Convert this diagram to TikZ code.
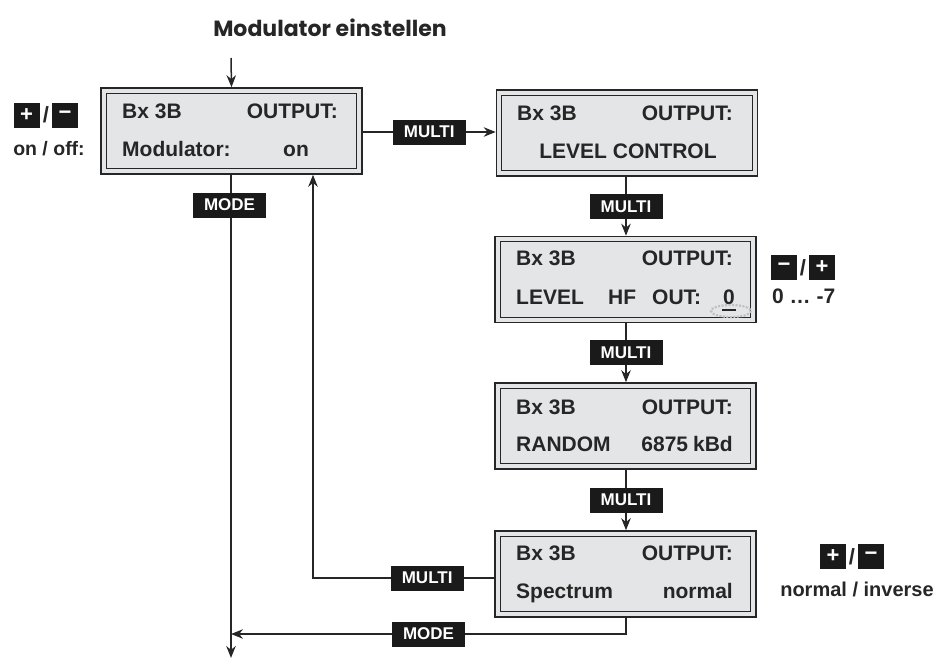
\documentclass[tikz,border=0pt]{standalone}
\usepackage{fontspec}
\setmainfont{Liberation Sans}
\newfontfamily\titlefont{Poppins}
\usetikzlibrary{arrows.meta,positioning,calc}
\definecolor{lcdgray}{HTML}{E4E5E6}
\definecolor{keyblack}{HTML}{1A1A1A}
\begin{document}
\begin{tikzpicture}[x=1pt,y=-1pt,
  lcd/.style={draw=black!85,line width=1.6pt,fill=lcdgray,minimum width=261pt,minimum height=86pt,inner sep=0pt},
  lcdin/.style={draw=black!85,line width=1.2pt},
  txt/.style={font=\bfseries\fontsize{21}{22}\selectfont,text=black!85,inner sep=0pt},
  lab/.style={fill=keyblack,text=white,font=\bfseries\fontsize{17}{17}\selectfont,minimum width=73pt,minimum height=25pt,inner sep=0pt},
  key/.style={fill=keyblack,text=white,font=\bfseries\fontsize{22}{22}\selectfont,minimum width=26pt,minimum height=25pt,inner sep=0pt},
  slash/.style={font=\bfseries\fontsize{22}{22}\selectfont,text=black!85,inner sep=0pt},
  con/.style={draw=black!85,line width=1.5pt},
  arr/.style={con,-{Stealth[length=12pt,width=9.5pt]}}
]
\path[use as bounding box] (0,0) rectangle (943,659);

% title
\node[font=\titlefont\bfseries\fontsize{22}{22}\selectfont,text=black!85,inner sep=0pt] (title) at (330,28) {Modulator einstellen};

% boxes
\node[lcd] (b1) at (231.5,131) {};
\node[lcd] (b2) at (627,133) {};
\node[lcd] (b3) at (625.5,279.5) {};
\node[lcd] (b4) at (625.5,426) {};
\node[lcd] (b5) at (625.5,574) {};
\foreach \b in {b1,b2,b3,b4,b5}{
  \draw[lcdin] ([shift={(6,6)}]\b.north west) rectangle ([shift={(-6,-6)}]\b.south east);
}

% box 1 texts
\node[txt,anchor=base west] (t1a) at (122,118) {Bx 3B};
\node[txt,anchor=base east] (t1b) at (338,118) {OUTPUT:};
\node[txt,anchor=base west] (t1c) at (122,156.5) {Modulator:};
\node[txt,anchor=base] (t1d) at (296,156.5) {on};

% box 2 texts
\node[txt,anchor=base west] (t2a) at (517,120) {Bx 3B};
\node[txt,anchor=base east] (t2b) at (733,120) {OUTPUT:};
\node[txt,anchor=base] (t2c) at (628,158.5) {LEVEL CONTROL};

% box 3 texts
\node[txt,anchor=base west] (t3a) at (516,265) {Bx 3B};
\node[txt,anchor=base east] (t3b) at (733,265) {OUTPUT:};
\node[txt,anchor=base west] (t3c) at (516,304) {LEVEL};
\node[txt,anchor=base west] (t3d) at (608,304) {HF};
\node[txt,anchor=base west] (t3e) at (652,304) {OUT:};
\node[txt,anchor=base] (t3f) at (729,304) {0};
\draw[black!85,line width=1.4pt] (722,310) -- (736,310);
\draw[black!25,line width=2.2pt,dash pattern=on 2pt off 1.5pt] (731,311) ellipse (20 and 6);

% box 4 texts
\node[txt,anchor=base west] (t4a) at (516,414.5) {Bx 3B};
\node[txt,anchor=base east] (t4b) at (733,414.5) {OUTPUT:};
\node[txt,anchor=base west] (t4c) at (516,451) {RANDOM};
\node[txt,anchor=base east] (t4d) at (733,451) {6875\hspace{5pt}kBd};

% box 5 texts
\node[txt,anchor=base west] (t5a) at (516,560.5) {Bx 3B};
\node[txt,anchor=base east] (t5b) at (733,560.5) {OUTPUT:};
\node[txt,anchor=base west] (t5c) at (516,598.5) {Spectrum};
\node[txt,anchor=base east] (t5d) at (733,598.5) {normal};

% side key groups
\node[key] (k1p) at (26.5,115) {+};
\node[slash] (k1s) at (46,115) {/};
\node[key] (k1m) at (65,115) {−};
\node[txt,font=\bfseries\fontsize{19.5}{20}\selectfont,anchor=base] (k1t) at (49,155) {on / off:};

\node[key] (k3m) at (784,267.5) {−};
\node[slash] (k3s) at (803,267.5) {/};
\node[key] (k3p) at (822,267.5) {+};
\node[txt,anchor=base west] (k3t) at (772,303) {0 … -7};

\node[key] (k5p) at (833,556.5) {+};
\node[slash] (k5s) at (852,556.5) {/};
\node[key] (k5m) at (871,556.5) {−};
\node[txt,font=\bfseries\fontsize{20}{20}\selectfont,anchor=base] (k5t) at (857,596) {normal / inverse};

% coordinates
\coordinate (top) at (231,58);
\coordinate (bot) at (231,658);
\coordinate (r1) at (313,578);
\coordinate (r2) at (626,634);

% connectors
\draw[arr] (top) -- (b1.north);
\draw[arr] (b1.east |- 0,132) -- node[lab] (m12) {MULTI} (b2.west |- 0,132);
\draw[arr] (b2.south -| 626,0) -- node[lab] (m23) {MULTI} (b3.north -| 626,0);
\draw[arr] (b3.south -| 626,0) -- node[lab] (m34) {MULTI} (b4.north -| 626,0);
\draw[arr] (b4.south -| 626,0) -- node[lab] (m45) {MULTI} (b5.north -| 626,0);
\draw[arr] (b5.west |- r1) -- node[lab,pos=0.37] (m51) {MULTI} (r1) -- (b1.south -| r1);
\draw[arr] (b5.south -| r2) -- (r2) -- node[lab,pos=0.5] (mode5) {MODE} (231,634);
\draw[arr,line width=1.8pt] (b1.south -| 231,0) -- (bot);
\node[lab] (mode1) at (229.5,205) {MODE};
\end{tikzpicture}
\end{document}
